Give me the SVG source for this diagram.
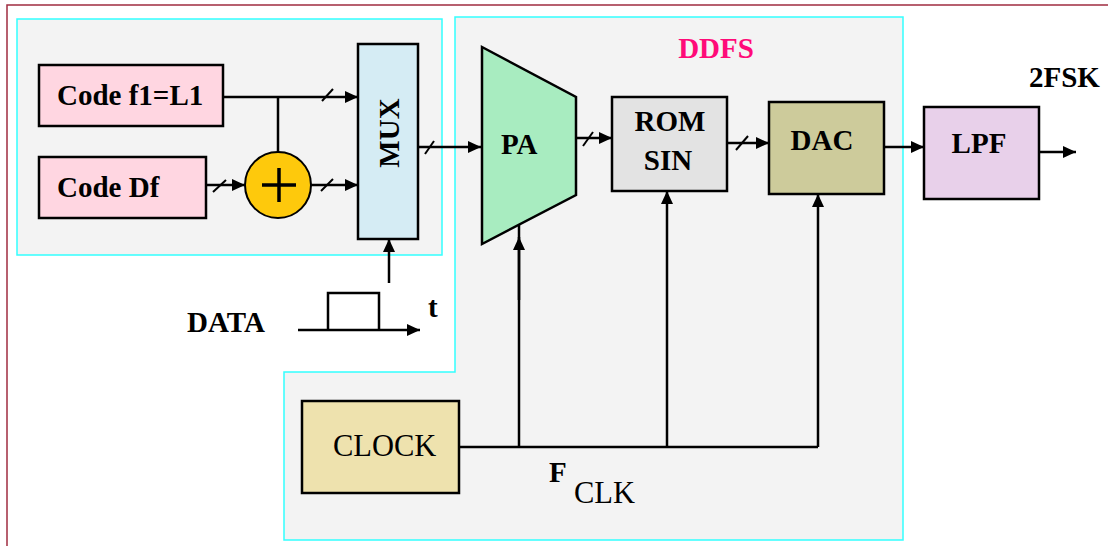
<svg xmlns="http://www.w3.org/2000/svg" width="1108" height="546" viewBox="0 0 1108 546">
<defs>
<marker id="ah" viewBox="0 0 13 12" refX="13" refY="6" markerWidth="13" markerHeight="12" markerUnits="userSpaceOnUse" orient="auto">
<path d="M0,0 L13,6 L0,12 Z" fill="#000"/>
</marker>
</defs>
<style>
.blk{stroke:#000;stroke-width:2.5;fill:none}
.arr{stroke:#000;stroke-width:2.5;fill:none;marker-end:url(#ah)}
.box{stroke:#000;stroke-width:2.5}
.t{font-family:"Liberation Serif","Times New Roman",serif;font-weight:bold;font-size:29px;fill:#000}
.r{font-weight:normal;font-size:30.5px}
.region{fill:#f3f3f3;stroke:#33ffff;stroke-width:1.5}
</style>
<rect x="0" y="0" width="1108" height="546" fill="#fff"/>
<rect x="7" y="5" width="1120" height="560" fill="none" stroke="#a02c40" stroke-width="1.5"/>
<g id="input-region">
<rect class="region" x="17" y="19" width="425" height="236"/>
</g>
<g id="ddfs-region">
<path class="region" d="M455,17 L903,17 L903,540 L284,540 L284,372 L455,372 Z"/>
<text class="t" x="716" y="58" text-anchor="middle" style="fill:#ff0a78">DDFS</text>
</g>
<g id="code-f1">
<rect class="box" x="39" y="65" width="184" height="61" fill="#ffd6e1"/>
<text class="t" x="57" y="105">Code f1=L1</text>
</g>
<g id="code-df">
<rect class="box" x="39" y="157" width="167" height="61" fill="#ffd6e1"/>
<text class="t" x="57" y="197">Code Df</text>
</g>
<g id="adder">
<circle cx="278" cy="185" r="33" fill="#fec90c" stroke="#000" stroke-width="2"/>
<path d="M262,185 H296 M279,168 V202" stroke="#000" stroke-width="3.5" fill="none"/>
</g>
<g id="mux">
<rect class="box" x="358" y="44" width="60" height="195" fill="#d5ecf4"/>
<text class="t" transform="translate(399,133) rotate(-90)" text-anchor="middle">MUX</text>
</g>
<g id="pa">
<path class="box" d="M482,47 L576,97 L576,195 L482,244 Z" fill="#a8ecc0"/>
<text class="t" x="501" y="154">PA</text>
</g>
<g id="rom-sin">
<rect class="box" x="612" y="97" width="115" height="94" fill="#e3e3e3"/>
<text class="t" x="670" y="131" text-anchor="middle">ROM</text>
<text class="t" x="668" y="170" text-anchor="middle">SIN</text>
</g>
<g id="dac">
<rect class="box" x="769" y="102" width="115" height="92" fill="#cdcb9b"/>
<text class="t" x="822" y="150" text-anchor="middle">DAC</text>
</g>
<g id="lpf">
<rect class="box" x="924" y="107" width="115" height="92" fill="#e8d0ea"/>
<text class="t" x="979" y="153" text-anchor="middle">LPF</text>
</g>
<g id="clock">
<rect class="box" x="302" y="401" width="157" height="92" fill="#eee2ae"/>
<text class="t r" x="333" y="456">CLOCK</text>
</g>
<g id="labels">
<text class="t" x="1029" y="87">2FSK</text>
<text class="t" x="187" y="332">DATA</text>
<text class="t" x="428" y="317">t</text>
<text class="t" x="549" y="482">F</text>
<text class="t r" x="574" y="503">CLK</text>
</g>
<g id="connectors">
<path class="arr" d="M223,97 H358"/>
<path class="blk" d="M278,97 V152"/>
<path class="arr" d="M206,185 H245"/>
<path class="arr" d="M311,185 H358"/>
<path class="arr" d="M418,147 H481"/>
<path class="arr" d="M576,138 H612"/>
<path class="arr" d="M727,143 H769"/>
<path class="arr" d="M884,147 H924"/>
<path class="arr" d="M1039,152 H1076"/>
<path class="blk" d="M459,447 H818"/>
<path class="blk" d="M519,447 V225"/>
<path class="arr" d="M519,300 V237"/>
<path class="arr" d="M667,447 V191"/>
<path class="arr" d="M818,447 V194"/>
<path class="arr" d="M389,283 V239"/>
<path class="arr" d="M298,330 H420"/>
<path class="blk" d="M328,330 V293 H379 V330"/>
<g stroke="#000" stroke-width="2" fill="none">
<path d="M322,101 L333,89"/>
<path d="M213,192 L226,180"/>
<path d="M321,191 L333,179"/>
<path d="M425,154 L434,141"/>
<path d="M583,146 L593,132"/>
<path d="M736,150 L748,136"/>
</g>
</g>
</svg>
